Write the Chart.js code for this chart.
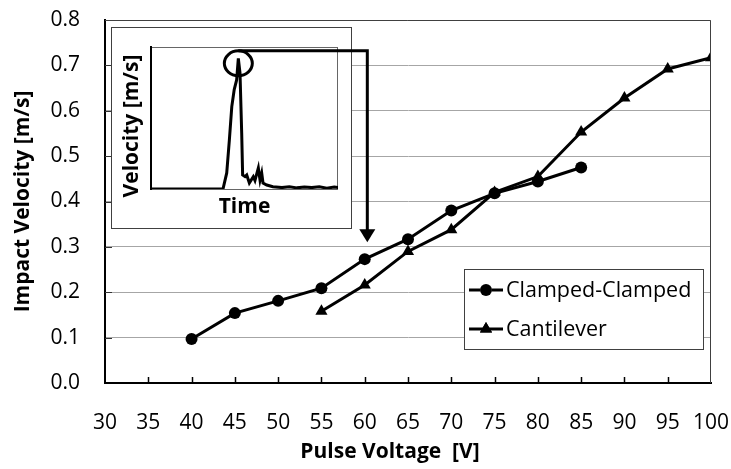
<!DOCTYPE html>
<html>
<head>
<meta charset="utf-8">
<script src="https://cdn.jsdelivr.net/npm/chart.js@4/dist/chart.umd.min.js"></script>
<style>
  body { margin: 0; background: #fff; }
  #wrap { position: relative; width: 731px; height: 469px; }
  #mainChart { position: absolute; left: 0; top: 0; }
  #insetChart { position: absolute; left: 105px; top: 20px; }
</style>
</head>
<body>
<div id="wrap">
  <canvas id="mainChart" width="731" height="469"></canvas>
  <canvas id="insetChart" width="280" height="230"></canvas>
</div>
<script>
// pulse voltage sweep, impact velocity per beam type
var clampedVoltage = [40, 45, 50, 55, 60, 65, 70, 75, 80, 85];
var clampedVelocity = [0.097, 0.154, 0.181, 0.209, 0.273, 0.317, 0.380, 0.418, 0.444, 0.475];
var cantileverVoltage = [55, 60, 65, 70, 75, 80, 85, 90, 95, 100];
var cantileverVelocity = [0.158, 0.216, 0.290, 0.338, 0.420, 0.455, 0.553, 0.628, 0.692, 0.717];

// velocity trace shown in the inset (arbitrary units)
var traceTime = [0, 38.5, 40.5, 41.9, 43.2, 44.5, 45.8, 46.7, 47.6, 48.5, 49.0, 50.3, 51.2, 52.6, 54.7, 55.6,
  57.4, 58.3, 59.2, 59.9, 61.9, 65.2, 70, 74, 78, 82, 86, 90, 94, 98, 101];
var traceVelocity = [0, 0, 0.113, 0.345, 0.58, 0.70, 0.768, 0.92, 0.817, 0.394, 0.099, 0.087, 0.099, 0.042, 0.087, 0.06,
  0.148, 0.063, 0.113, 0.042, 0.028, 0.016, 0.010, 0.016, 0.008, 0.014, 0.010, 0.016, 0.006, 0.014, 0.010];

// where the arrow from the inset points to
var arrowTarget = { x: 60.3, y: 0.31 };

var xTitle = "Pulse Voltage  [V]";
var insetYTitle = "Velocity [m/s]";

var FONT = "'Open Sans', sans-serif";

function pairs(xs, ys) {
  return xs.map(function (x, i) { return { x: x, y: ys[i] }; });
}

function noEdgePadding(s) {
  s.paddingLeft = 0;
  s.paddingRight = 0;
  s.paddingTop = 0;
  s.paddingBottom = 0;
}

// inward ticks, plot frame, x title and boxed legend
var mainDecor = {
  id: "mainDecor",
  afterDatasetsDraw: function (chart) {
    var ctx = chart.ctx, a = chart.chartArea;
    var xs = chart.scales.x, ys = chart.scales.y;
    ctx.save();
    ctx.strokeStyle = "#404040";
    ctx.lineWidth = 1;
    ctx.beginPath();
    ctx.moveTo(a.left, a.top + 0.5);
    ctx.lineTo(a.right - 0.5, a.top + 0.5);
    ctx.lineTo(a.right - 0.5, a.bottom);
    ctx.stroke();

    ctx.strokeStyle = "#000";
    ctx.lineWidth = 1.5;
    xs.ticks.forEach(function (t) {
      if (t.value <= 30 || t.value >= 100) return;
      var px = Math.round(xs.getPixelForValue(t.value)) + 0.5;
      ctx.beginPath();
      ctx.moveTo(px, a.bottom);
      ctx.lineTo(px, a.bottom - 6);
      ctx.stroke();
    });
    ctx.strokeStyle = "#333";
    ctx.lineWidth = 1;
    ys.ticks.forEach(function (t) {
      if (t.value <= 0 || t.value >= 0.8) return;
      var py = Math.round(ys.getPixelForValue(t.value)) + 0.5;
      ctx.beginPath();
      ctx.moveTo(a.left, py);
      ctx.lineTo(a.left + 7, py);
      ctx.stroke();
    });

    ctx.fillStyle = "#000";
    ctx.font = "bold 21px " + FONT;
    ctx.textAlign = "center";
    ctx.textBaseline = "middle";
    ctx.fillText(xTitle, 390, 452);

    // legend box
    var bx = 464.5, by = 269.5, bw = 239, bh = 80;
    ctx.fillStyle = "#fff";
    ctx.fillRect(bx, by, bw, bh);
    ctx.strokeStyle = "#404040";
    ctx.lineWidth = 1;
    ctx.strokeRect(bx, by, bw, bh);
    var rows = [290, 329];
    chart.data.datasets.forEach(function (ds, i) {
      var y = rows[i];
      ctx.strokeStyle = ds.borderColor;
      ctx.lineWidth = ds.borderWidth;
      ctx.beginPath();
      ctx.moveTo(469, y);
      ctx.lineTo(503, y);
      ctx.stroke();
      Chart.helpers.drawPoint(ctx, {
        pointStyle: ds.pointStyle,
        radius: ds.pointRadius,
        borderWidth: 0,
        rotation: 0
      }, 486, y);
      ctx.fillStyle = "#000";
      ctx.fill();
      ctx.font = "21.5px " + FONT;
      ctx.textBaseline = "middle";
      ctx.textAlign = "left";
      ctx.fillText(ds.label, 506, y + 1);
    });
    ctx.restore();
  }
};

var mainChart = new Chart(document.getElementById("mainChart"), {
  type: "line",
  data: {
    datasets: [
      {
        label: "Clamped-Clamped",
        data: pairs(clampedVoltage, clampedVelocity),
        borderColor: "#000",
        backgroundColor: "#000",
        borderWidth: 3,
        pointStyle: "circle",
        pointRadius: 6,
        pointBorderWidth: 0
      },
      {
        label: "Cantilever",
        data: pairs(cantileverVoltage, cantileverVelocity),
        borderColor: "#000",
        backgroundColor: "#000",
        borderWidth: 3,
        pointStyle: "triangle",
        pointRadius: 7,
        pointBorderWidth: 0
      }
    ]
  },
  options: {
    responsive: false,
    animation: false,
    devicePixelRatio: 1,
    layout: { padding: { top: 20, right: 20, left: 0, bottom: 0 } },
    plugins: { legend: { display: false }, tooltip: { enabled: false } },
    scales: {
      x: {
        type: "linear",
        min: 30,
        max: 100,
        ticks: { stepSize: 5, padding: 27, color: "#000", font: { family: FONT, size: 21 } },
        grid: { drawOnChartArea: false, drawTicks: false },
        border: { color: "#000", width: 2 },
        afterFit: function (s) { s.height = 86; noEdgePadding(s); }
      },
      y: {
        min: 0,
        max: 0.8,
        ticks: {
          stepSize: 0.1,
          padding: 25,
          color: "#000",
          font: { family: FONT, size: 21 },
          callback: function (v) { return v.toFixed(1); }
        },
        grid: {
          drawTicks: false,
          color: "#a6a6a6",
          lineWidth: 1
        },
        border: { color: "#000", width: 2 },
        title: {
          display: true,
          text: "Impact Velocity [m/s]",
          color: "#000",
          font: { family: FONT, size: 21, weight: "bold" },
          padding: { top: 10, bottom: 0 }
        },
        afterFit: function (s) { s.width = 105; noEdgePadding(s); }
      }
    }
  },
  plugins: [mainDecor]
});

var INSET_LEFT = 105, INSET_TOP = 20;

// white inset panel, plot frame, circled peak and arrow to the main plot
var insetDecor = {
  id: "insetDecor",
  beforeDraw: function (chart) {
    var ctx = chart.ctx;
    ctx.save();
    ctx.fillStyle = "#fff";
    ctx.fillRect(6, 7, 240, 201);
    ctx.strokeStyle = "#404040";
    ctx.lineWidth = 1;
    ctx.strokeRect(6.5, 7.5, 240, 201);
    var a = chart.chartArea;
    ctx.strokeStyle = "#666";
    ctx.strokeRect(a.left + 0.5, a.top + 0.5, a.right - a.left - 1, a.bottom - a.top);

    ctx.translate(27, 106);
    ctx.rotate(-Math.PI / 2);
    ctx.fillStyle = "#000";
    ctx.font = "bold 21px " + FONT;
    ctx.textAlign = "center";
    ctx.textBaseline = "middle";
    ctx.fillText(insetYTitle, 0, 0);
    ctx.restore();
  },
  afterDraw: function (chart) {
    var ctx = chart.ctx;
    var xs = chart.scales.x, ys = chart.scales.y;
    var peak = 0;
    traceVelocity.forEach(function (v, i) { if (v > traceVelocity[peak]) peak = i; });
    var px = xs.getPixelForValue(traceTime[peak]);
    var py = ys.getPixelForValue(traceVelocity[peak]);
    var cy = py + 5, rx = 14, ry = 12.5;

    var tx = mainChart.scales.x.getPixelForValue(arrowTarget.x) - INSET_LEFT;
    var ty = mainChart.scales.y.getPixelForValue(arrowTarget.y) - INSET_TOP;

    ctx.save();
    ctx.strokeStyle = "#000";
    ctx.lineWidth = 3;
    ctx.beginPath();
    ctx.ellipse(px, cy, rx, ry, 0, 0, Math.PI * 2);
    ctx.stroke();

    ctx.beginPath();
    ctx.moveTo(px, cy - ry);
    ctx.lineTo(tx, cy - ry);
    ctx.lineTo(tx, ty - 12);
    ctx.stroke();
    ctx.fillStyle = "#000";
    ctx.beginPath();
    ctx.moveTo(tx - 8, ty - 13);
    ctx.lineTo(tx + 8, ty - 13);
    ctx.lineTo(tx, ty);
    ctx.closePath();
    ctx.fill();
    ctx.restore();
  }
};

new Chart(document.getElementById("insetChart"), {
  type: "line",
  data: {
    datasets: [{
      data: pairs(traceTime, traceVelocity),
      borderColor: "#000",
      borderWidth: 3,
      pointRadius: 0,
      tension: 0
    }]
  },
  options: {
    responsive: false,
    animation: false,
    devicePixelRatio: 1,
    layout: { padding: { top: 27, right: 47, left: 10, bottom: 30 } },
    plugins: { legend: { display: false }, tooltip: { enabled: false } },
    scales: {
      x: {
        type: "linear",
        min: 0,
        max: 100,
        ticks: { display: false },
        grid: { display: false },
        border: { display: false },
        title: {
          display: true,
          text: "Time",
          color: "#000",
          font: { family: FONT, size: 21, weight: "bold" },
          padding: { top: 0, bottom: 0 }
        },
        afterFit: function (s) { s.height = 31; noEdgePadding(s); }
      },
      y: {
        min: 0,
        max: 1,
        ticks: { display: false },
        grid: { display: false },
        border: { color: "#000", width: 2 },
        afterFit: function (s) { s.width = 36; noEdgePadding(s); }
      }
    }
  },
  plugins: [insetDecor]
});
</script>
</body>
</html>
